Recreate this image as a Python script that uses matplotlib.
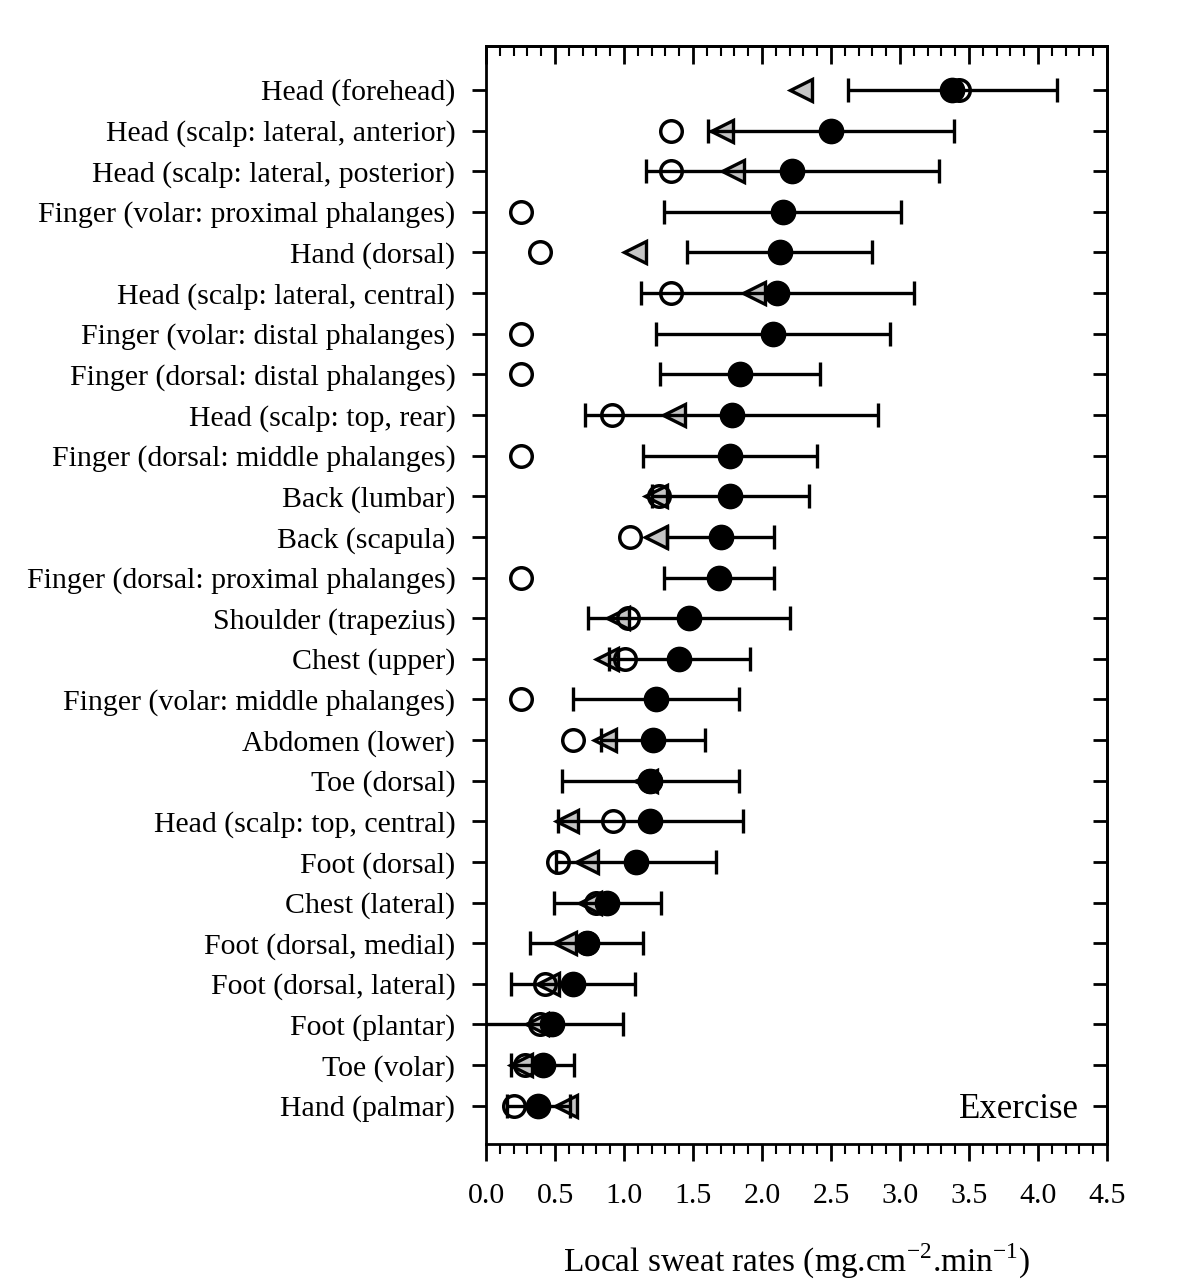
import numpy as np
import matplotlib.pyplot as plt
from matplotlib.ticker import MultipleLocator

# body sites, top to bottom
sites = ["Head (forehead)", "Head (scalp: lateral, anterior)", "Head (scalp: lateral, posterior)",
         "Finger (volar: proximal phalanges)", "Hand (dorsal)", "Head (scalp: lateral, central)",
         "Finger (volar: distal phalanges)", "Finger (dorsal: distal phalanges)",
         "Head (scalp: top, rear)", "Finger (dorsal: middle phalanges)", "Back (lumbar)",
         "Back (scapula)", "Finger (dorsal: proximal phalanges)", "Shoulder (trapezius)",
         "Chest (upper)", "Finger (volar: middle phalanges)", "Abdomen (lower)", "Toe (dorsal)",
         "Head (scalp: top, central)", "Foot (dorsal)", "Chest (lateral)",
         "Foot (dorsal, medial)", "Foot (dorsal, lateral)", "Foot (plantar)", "Toe (volar)",
         "Hand (palmar)"]

# filled circles (mean) and their SD
mean_filled = [3.38, 2.50, 2.22, 2.15, 2.13, 2.11, 2.08, 1.84, 1.78, 1.77, 1.77, 1.70, 1.69,
               1.47, 1.40, 1.23, 1.21, 1.19, 1.19, 1.09, 0.88, 0.73, 0.63, 0.48, 0.41, 0.38]
sd_filled = [0.76, 0.89, 1.06, 0.86, 0.67, 0.99, 0.85, 0.58, 1.06, 0.63, 0.57, 0.39, 0.40,
             0.73, 0.51, 0.60, 0.38, 0.64, 0.67, 0.58, 0.39, 0.41, 0.45, 0.51, 0.23, 0.23]

# open circles
mean_open = [3.43, 1.34, 1.34, 0.25, 0.39, 1.34, 0.25, 0.25, 0.91, 0.25, 1.25, 1.04, 0.25,
             1.03, 1.01, 0.25, 0.63, 1.19, 0.92, 0.52, 0.80, 0.73, 0.43, 0.39, 0.28, 0.20]

# grey triangles
mean_tri = [2.28, 1.71, 1.79, np.nan, 1.08, 1.94, np.nan, np.nan, 1.36, np.nan, 1.23, 1.23,
            np.nan, 0.96, 0.88, np.nan, 0.86, 1.16, 0.59, 0.73, 0.75, 0.57, 0.45, 0.37, 0.25, 0.58]

plt.rcParams['font.family'] = ['Liberation Serif', 'DejaVu Serif']
plt.rcParams['mathtext.fontset'] = 'custom'
plt.rcParams['mathtext.rm'] = 'Liberation Serif'

y = np.arange(len(sites))

fig = plt.figure(figsize=(12, 12.79), dpi=100)
ax = fig.add_axes([0.405, 0.1056, 0.5175, 0.8584])

ax.plot(mean_tri, y, linestyle='none', marker='<', markersize=16, markerfacecolor='#c4c4c4',
        markeredgecolor='black', markeredgewidth=2.4, zorder=2)
ax.errorbar(mean_filled, y, xerr=sd_filled, fmt='none', ecolor='black', elinewidth=2.4,
            capsize=8.5, capthick=2.4, zorder=3)
ax.plot(mean_open, y, linestyle='none', marker='o', markersize=15.5, markerfacecolor='none',
        markeredgecolor='black', markeredgewidth=2.5, zorder=4)
ax.plot(mean_filled, y, linestyle='none', marker='o', markersize=17.5, markerfacecolor='black',
        markeredgecolor='black', zorder=5)

ax.set_xlim(0, 4.5)
ax.set_ylim(len(sites) - 1 + 0.94, -1.08)
ax.set_yticks(y)
ax.set_yticklabels(sites, fontsize=21.5)
ax.set_xticks(np.arange(0, 4.51, 0.5))
ax.set_xticklabels([f"{v:.1f}" for v in np.arange(0, 4.51, 0.5)], fontsize=21.5)
ax.xaxis.set_minor_locator(MultipleLocator(0.1))

for s in ax.spines.values():
    s.set_linewidth(2)

ax.tick_params(axis='y', which='major', left=True, right=False, direction='out',
               length=10, width=2, pad=12)
ax.tick_params(axis='x', which='major', length=12, width=2, pad=16, top=False)
ax.tick_params(axis='x', which='minor', length=7, width=1.5, top=False)

# top ticks point in, right ticks point in
ax2 = ax.secondary_xaxis('top')
ax2.xaxis.set_major_locator(MultipleLocator(0.5))
ax2.xaxis.set_minor_locator(MultipleLocator(0.1))
ax2.tick_params(axis='x', which='major', direction='in', length=13, width=2, labeltop=False)
ax2.tick_params(axis='x', which='minor', direction='in', length=7, width=1.5)
ax2.spines['top'].set_linewidth(2)
ax3 = ax.secondary_yaxis('right')
ax3.set_yticks(y)
ax3.tick_params(axis='y', direction='in', length=10, width=2, labelright=False)
ax3.spines['right'].set_linewidth(2)

ax.set_xlabel("Local sweat rates (mg.cm$^{-2}$.min$^{-1}$)", fontsize=24, labelpad=24)
ax.text(0.955, 25, "Exercise", transform=ax.get_yaxis_transform(), ha='right',
        va='center_baseline', fontsize=25)

fig.savefig("out.png", dpi=100)
